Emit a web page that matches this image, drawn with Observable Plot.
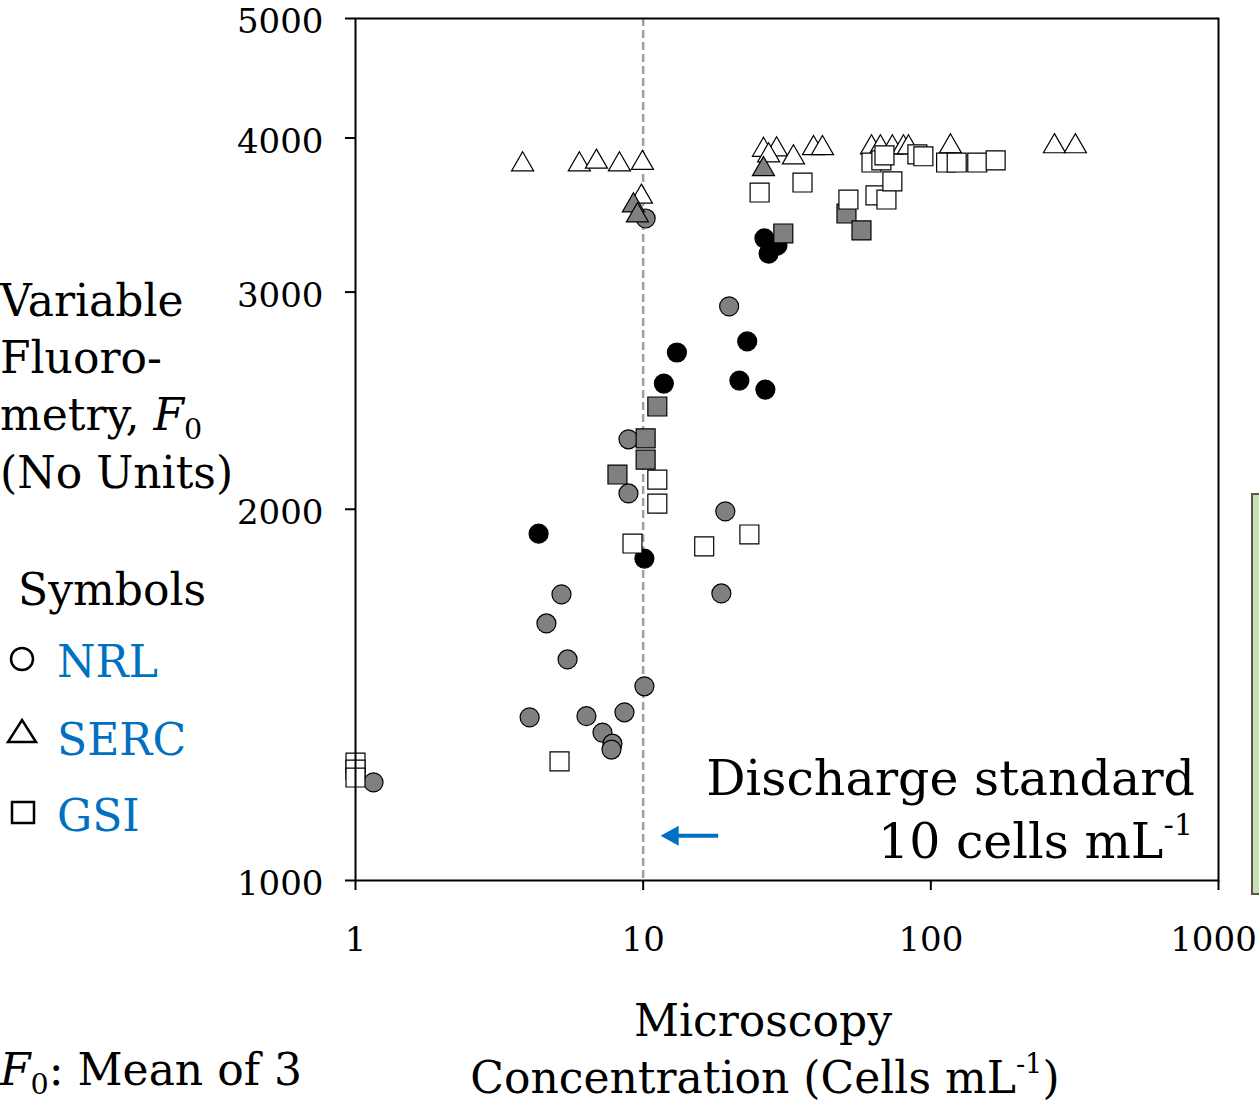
<!DOCTYPE html>
<html>
<head>
<meta charset="utf-8">
<script src="https://cdn.jsdelivr.net/npm/d3@7"></script>
<script src="https://cdn.jsdelivr.net/npm/@observablehq/plot@0.6"></script>
<style>
  html, body { margin: 0; padding: 0; background: #fff; }
  svg { display: block; }
</style>
</head>
<body>
<div id="chart"></div>
<script>
// ---- tick labels ----
const xTicks = [1, 10, 100, 1000];
const yTicks = [1000, 2000, 3000, 4000, 5000];
const dischargeStandard = 10;

// ---- NRL (circles) ----
const nrlGrayX  = [10.2, 19.9, 8.89, 8.89, 19.3, 18.7, 5.20, 4.61, 5.46, 10.1, 4.03, 6.35, 8.61, 7.22, 7.82, 7.76, 1.155];
const nrlGrayY  = [3442, 2921, 2279, 2060, 1992, 1709, 1706, 1616, 1511, 1437, 1356, 1359, 1369, 1318, 1291, 1277, 1201];
const nrlBlackX = [26.4, 27.3, 29.3, 13.1, 23.0, 11.8, 21.6, 26.6, 4.33, 10.1];
const nrlBlackY = [3316, 3224, 3273, 2680, 2736, 2529, 2543, 2501, 1911, 1824];

// ---- SERC (triangles) ----
const sercWhiteX = [3.81, 6.00, 6.88, 8.27, 9.94, 9.86, 26.2, 29.1, 27.3, 33.3, 39.1, 42.0, 62.2, 66.8, 73.5, 80.3, 83.6, 117, 269, 318];
const sercWhiteY = [3807, 3807, 3826, 3807, 3817, 3584, 3912, 3915, 3871, 3857, 3924, 3924, 3930, 3930, 3930, 3930, 3930, 3937, 3938, 3938];
const sercGrayX  = [9.25, 9.55, 26.2];
const sercGrayY  = [3526, 3461, 3773];

// ---- GSI (squares) ----
const gsiWhiteX = [25.4, 35.8, 51.7, 64.2, 70.1, 73.5, 62.2, 67.3, 69.0, 89.8, 94.2, 113, 123, 145, 168, 11.2, 11.2, 9.18, 16.3, 23.4, 5.12, 1.0, 1.0, 1.0];
const gsiWhiteY = [3613, 3681, 3566, 3594, 3566, 3689, 3821, 3837, 3873, 3880, 3866, 3821, 3821, 3821, 3837, 2114, 2021, 1876, 1866, 1908, 1249, 1246, 1230, 1212];
const gsiGrayX  = [30.7, 50.9, 57.4, 11.2, 10.2, 10.2, 8.14];
const gsiGrayY  = [3347, 3474, 3366, 2423, 2283, 2194, 2134];

const zip = (xs, ys) => xs.map((x, i) => ({x, y: ys[i]}));

const FONT = "DejaVu Serif";
const BLUE = "#0070C0";
const GRAY = "#808080";

const dotBase = {x: "x", y: "y", stroke: "black", strokeWidth: 1.2};
const labelBase = {tickFormat: d => String(d), tickSize: 0, label: null, fontSize: 34};

const plot = Plot.plot({
  width: 1259,
  height: 1110,
  marginLeft: 355,
  marginRight: 41,
  marginTop: 18,
  marginBottom: 230,
  style: {fontFamily: FONT, fontSize: "34px", background: "white", color: "black"},
  x: {type: "log", domain: [1, 1000]},
  y: {type: "log", domain: [1000, 5000]},
  marks: [
    Plot.ruleX([dischargeStandard], {stroke: "#A0A0A0", strokeWidth: 2.5, strokeDasharray: "8,4"}),
    Plot.dot(zip(nrlGrayX, nrlGrayY), {...dotBase, symbol: "circle", r: 9.5, fill: GRAY}),
    Plot.dot(zip(nrlBlackX, nrlBlackY), {...dotBase, symbol: "circle", r: 9.5, fill: "black"}),
    Plot.dot(zip(sercWhiteX, sercWhiteY), {...dotBase, symbol: "triangle", r: 8.2, fill: "white"}),
    Plot.dot(zip(sercGrayX, sercGrayY), {...dotBase, symbol: "triangle", r: 8.2, fill: GRAY}),
    Plot.dot(zip(gsiGrayX, gsiGrayY), {...dotBase, symbol: "square", r: 10.7, fill: GRAY}),
    Plot.dot(zip(gsiWhiteX, gsiWhiteY), {...dotBase, symbol: "square", r: 10.7, fill: "white"}),
    Plot.frame({stroke: "black", strokeWidth: 2}),
    // tick lines
    Plot.axisY({ticks: yTicks, tickFormat: () => "", tickSize: 10, strokeWidth: 2, label: null}),
    Plot.axisX({ticks: xTicks, tickFormat: () => "", tickSize: 10, strokeWidth: 2, label: null}),
    // tick labels
    Plot.axisY({...labelBase, ticks: yTicks, tickPadding: 32, dy: 4}),
    Plot.axisX({...labelBase, ticks: xTicks.slice(0, 3), tickPadding: 46}),
    Plot.axisX({...labelBase, ticks: xTicks.slice(3), tickPadding: 46, dx: -5})
  ]
});

document.getElementById("chart").appendChild(plot);
const svg = d3.select(plot);
const sx = plot.scale("x"), sy = plot.scale("y");

function addText(x, y, parts, opts = {}) {
  const t = svg.append("text")
    .attr("x", x).attr("y", y)
    .attr("font-family", FONT)
    .attr("font-size", opts.size || 44)
    .attr("fill", opts.fill || "black")
    .attr("text-anchor", opts.anchor || "start");
  parts.forEach(p => {
    if (typeof p === "string") { t.append("tspan").text(p); return; }
    const ts = t.append("tspan").text(p.t);
    if (p.italic) ts.attr("font-style", "italic");
    if (p.sub) ts.attr("font-size", "0.65em").attr("dy", "0.3em");
    if (p.sup) ts.attr("font-size", "0.62em").attr("dy", "-0.75em");
    if (p.reset) ts.attr("dy", p.reset);
  });
  return t;
}

// Y axis title
addText(0, 316, ["Variable"]);
addText(0, 373, ["Fluoro-"]);
addText(0, 430, ["metry, ", {t: "F", italic: true}, {t: "0", sub: true}]);
addText(0, 488, ["(No Units)"]);

// Legend
addText(18, 605, ["Symbols"]);
addText(57, 677, ["NRL"], {fill: BLUE});
addText(57, 755, ["SERC"], {fill: BLUE});
addText(57, 831, ["GSI"], {fill: BLUE});
const lg = svg.append("g").attr("fill", "none").attr("stroke", "black").attr("stroke-width", 2.5);
lg.append("circle").attr("cx", 22).attr("cy", 659).attr("r", 11);
lg.append("path").attr("d", "M22,720 L36,742 L8,742 Z");
lg.append("rect").attr("x", 12).attr("y", 802).attr("width", 22).attr("height", 21);

// X axis title
addText(763, 1036, ["Microscopy"], {anchor: "middle"});
addText(765, 1093, ["Concentration (Cells mL", {t: "-1", sup: true}, {t: ")", reset: "0.47em"}], {anchor: "middle"});

// Footnote
addText(0, 1085, [{t: "F", italic: true}, {t: "0", sub: true}, {t: ": Mean of 3", reset: "-0.2em"}]);

// Discharge standard annotation
addText(1195, 795, ["Discharge standard"], {size: 49, anchor: "end"});
addText(1193, 858, ["10 cells mL", {t: "-1", sup: true}], {size: 49, anchor: "end"});

// Blue arrow pointing at the discharge standard line
const ay = sy.apply(1086);
const ax0 = sx.apply(18.3), ax1 = sx.apply(dischargeStandard) + 18;
svg.append("line").attr("x1", ax0).attr("x2", ax1 + 14).attr("y1", ay).attr("y2", ay)
  .attr("stroke", BLUE).attr("stroke-width", 4);
svg.append("path").attr("d", `M${ax1},${ay} L${ax1 + 18},${ay - 10} L${ax1 + 18},${ay + 10} Z`).attr("fill", BLUE);

// Green panel at right edge (partially cut off)
svg.append("rect").attr("x", 1252).attr("y", 494).attr("width", 30).attr("height", 400)
  .attr("fill", "#C5E0B4").attr("stroke", "#5B5549").attr("stroke-width", 2);
</script>
</body>
</html>
